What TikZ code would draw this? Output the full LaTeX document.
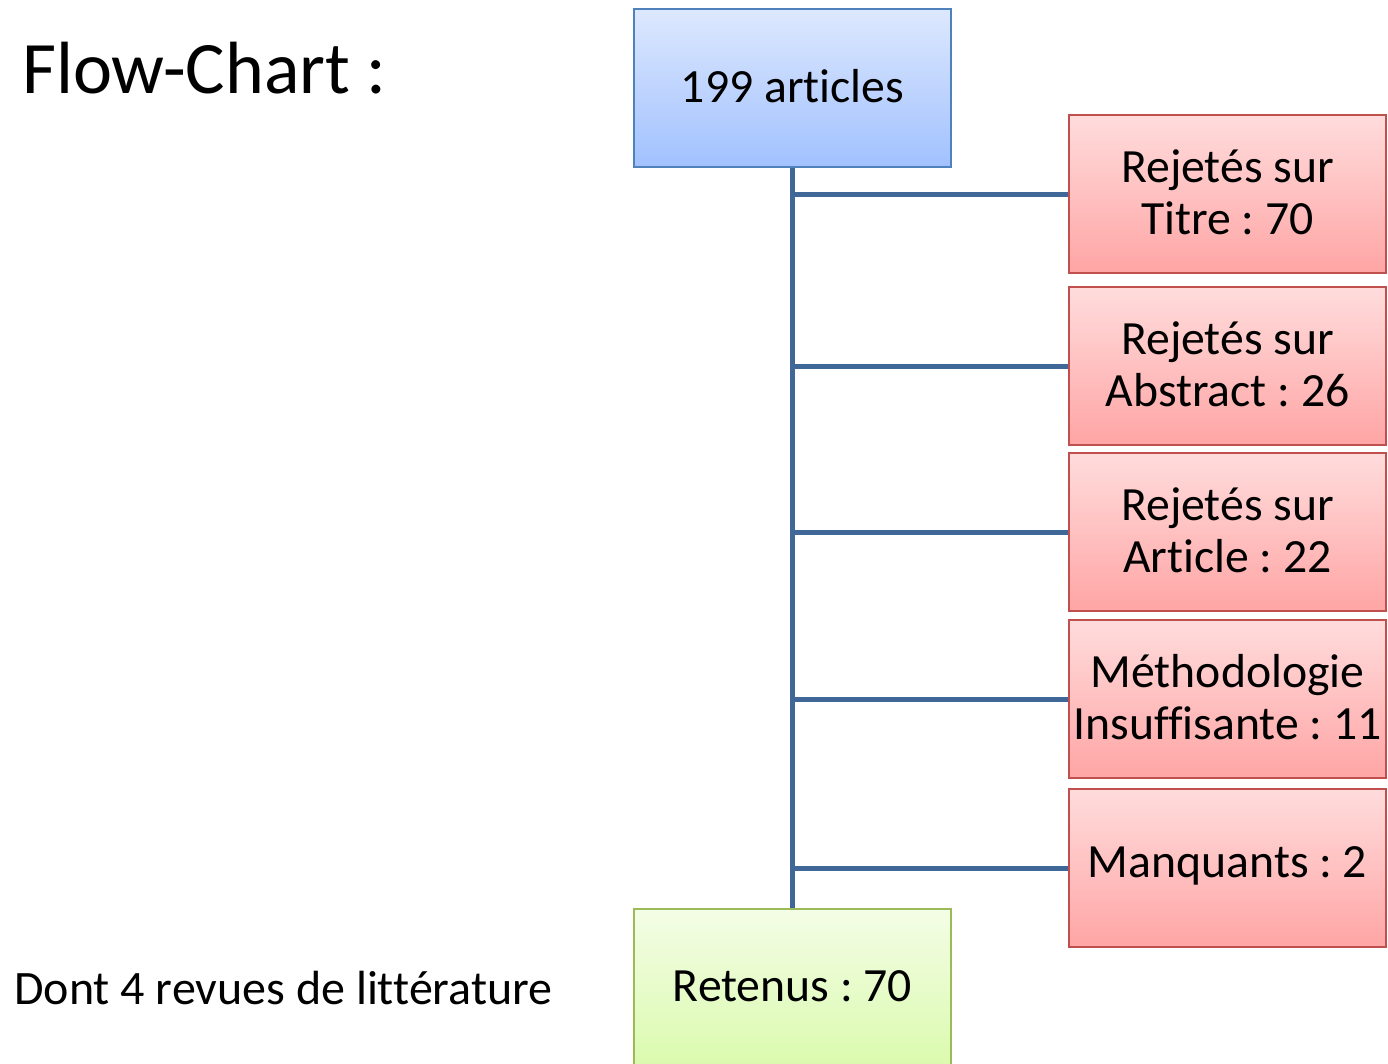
\documentclass[tikz,border=0pt]{standalone}
\usepackage{fontspec}
\setmainfont{Carlito}[Ligatures={NoCommon}]
\frenchspacing
\definecolor{trunk}{HTML}{3F6797}
\definecolor{bluedraw}{HTML}{4F81BD}
\definecolor{bluetop}{HTML}{DDE8FE}
\definecolor{bluebot}{HTML}{A1C1FE}
\definecolor{reddraw}{HTML}{C0504D}
\definecolor{redtop}{HTML}{FFDCDC}
\definecolor{redbot}{HTML}{FFA5A5}
\definecolor{greendraw}{HTML}{9BBB59}
\definecolor{greentop}{HTML}{F4FDE6}
\definecolor{greenbot}{HTML}{D7FAA6}
\tikzset{
  boxtext/.style={font=\fontsize{47.7}{52}\selectfont, align=center, text=black},
  bluebox/.style={boxtext, draw=bluedraw, line width=2pt, top color=bluetop, bottom color=bluebot, minimum width=317pt, minimum height=158pt, inner sep=0pt},
  redbox/.style={boxtext, draw=reddraw, line width=2pt, top color=redtop, bottom color=redbot, minimum width=317pt, minimum height=158pt, inner sep=0pt},
  greenbox/.style={boxtext, draw=greendraw, line width=2pt, top color=greentop, bottom color=greenbot, minimum width=317pt, minimum height=180pt, inner sep=0pt},
  lift/.style={yshift=2pt},
  conn/.style={draw=trunk, line width=5pt}
}
\begin{document}
\begin{tikzpicture}[x=1pt,y=-1pt]
\useasboundingbox (0,0) rectangle (1388,1063);
\clip (0,0) rectangle (1388,1063);
\node[anchor=base west, inner sep=0pt, font=\fontsize{74}{80}\selectfont] (title) at (22,93) {Flow-Chart :};
\node[anchor=base west, inner sep=0pt, font=\fontsize{48}{52}\selectfont] (note) at (14,1004) {Dont 4 revues de littérature};
\node[bluebox] (top) at (792.5,88) {};
\node[boxtext, lift] (toptext) at (top) {199 articles};
\node[redbox] (r1) at (1227.5,194) {};
\node[boxtext, lift] (r1text) at (r1) {Rejetés sur\\Titre : 70};
\node[redbox] (r2) at (1227.5,366) {};
\node[boxtext, lift] (r2text) at (r2) {Rejetés sur\\Abstract : 26};
\node[redbox] (r3) at (1227.5,532) {};
\node[boxtext, lift] (r3text) at (r3) {Rejetés sur\\Article : 22};
\node[redbox] (r4) at (1227.5,699) {};
\node[boxtext, lift] (r4text) at (r4) {Méthodologie\\Insuffisante : 11};
\node[redbox] (r5) at (1227.5,868) {};
\node[boxtext, lift] (r5text) at (r5) {Manquants : 2};
\node[greenbox, anchor=north] (ret) at (792.5,908) {};
\node[boxtext, anchor=base] (rettext) at (792.5,1001) {Retenus : 70};
\draw[conn] (top.south) -- (ret.north);
\foreach \r in {r1,r2,r3,r4,r5} {
  \draw[conn] (top.south |- \r.west) -- (\r.west);
}
\end{tikzpicture}
\end{document}
